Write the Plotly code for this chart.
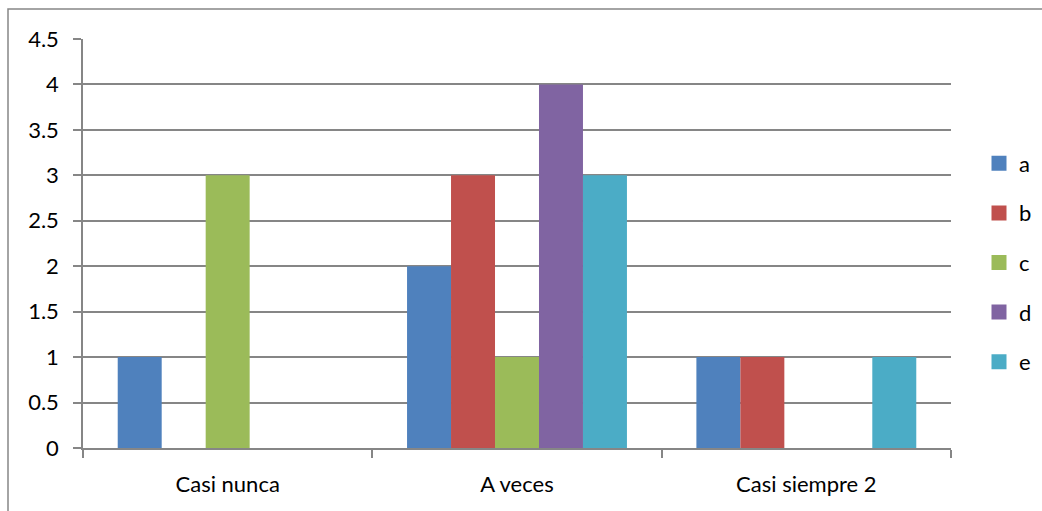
import plotly.graph_objects as go

categories = ["Casi nunca", "A veces", "Casi siempre 2"]
series_names = ["a", "b", "c", "d", "e"]
values_a = [1, 2, 1]
values_b = [0, 3, 1]
values_c = [3, 1, 0]
values_d = [0, 4, 0]
values_e = [0, 3, 1]
colors = ["#4F81BD", "#C0504D", "#9BBB59", "#8064A2", "#4BACC6"]
y_ticks = [0, 0.5, 1, 1.5, 2, 2.5, 3, 3.5, 4, 4.5]
y_tick_labels = ["0", "0.5", "1", "1.5", "2", "2.5", "3", "3.5", "4", "4.5"]

all_values = [values_a, values_b, values_c, values_d, values_e]

W, H = 1042, 511
ml, mr, mt, mb = 83, 91, 39, 63
pw, ph = W - ml - mr, H - mt - mb

fig = go.Figure()
for name, vals, col in zip(series_names, all_values, colors):
    fig.add_trace(go.Bar(x=categories, y=vals, name=name, marker_color=col,
                         marker_line_width=0, legendgroup=name, showlegend=False))
# legend entries with larger square swatches
for name, col in zip(series_names, colors):
    fig.add_trace(go.Scatter(x=[None], y=[None], mode="markers", name=name,
                             marker=dict(symbol="square", size=15, color=col),
                             legendgroup=name, showlegend=True, hoverinfo="skip"))

font = dict(family="Lato, Open Sans, sans-serif", size=22, color="#000000")
fig.update_layout(
    width=W, height=H,
    margin=dict(l=ml, r=mr, t=mt, b=mb, autoexpand=False),
    paper_bgcolor="white", plot_bgcolor="white",
    barmode="group", bargap=0.24, bargroupgap=0,
    font=font,
    showlegend=True,
    legend=dict(x=(979 - ml) / pw, y=0.5 - 19 / ph, xanchor="left", yanchor="middle",
                tracegroupgap=18, font=font, bgcolor="rgba(0,0,0,0)",
                itemwidth=30),
    xaxis=dict(type="category", categoryorder="array", categoryarray=categories,
               showgrid=False, showline=True, linecolor="#868686",
               linewidth=1.5, ticks="outside", tickson="boundaries", ticklen=8,
               tickcolor="#868686", tickwidth=1.5, tickfont=font,
               ticklabelstandoff=16),
    yaxis=dict(range=[0, 4.5], tickvals=y_ticks, ticktext=y_tick_labels,
               showgrid=True, gridcolor="#868686", gridwidth=1.5,
               showline=True, linecolor="#868686", linewidth=1.5,
               ticks="outside", ticklen=8, tickcolor="#868686", tickwidth=1.5,
               tickfont=font, zeroline=False, ticklabelstandoff=10),
    shapes=[dict(type="rect", xref="paper", yref="paper",
                 x0=(8 - ml) / pw, x1=(W + 10 - ml) / pw,
                 y0=-(H + 10 - mt - ph) / ph, y1=1 + (mt - 9) / ph,
                 line=dict(color="#868686", width=1.5), layer="below")],
)

fig.write_html("out.html", config={"displayModeBar": False},
               post_script="document.body.style.margin='0';document.body.style.overflow='hidden';")
